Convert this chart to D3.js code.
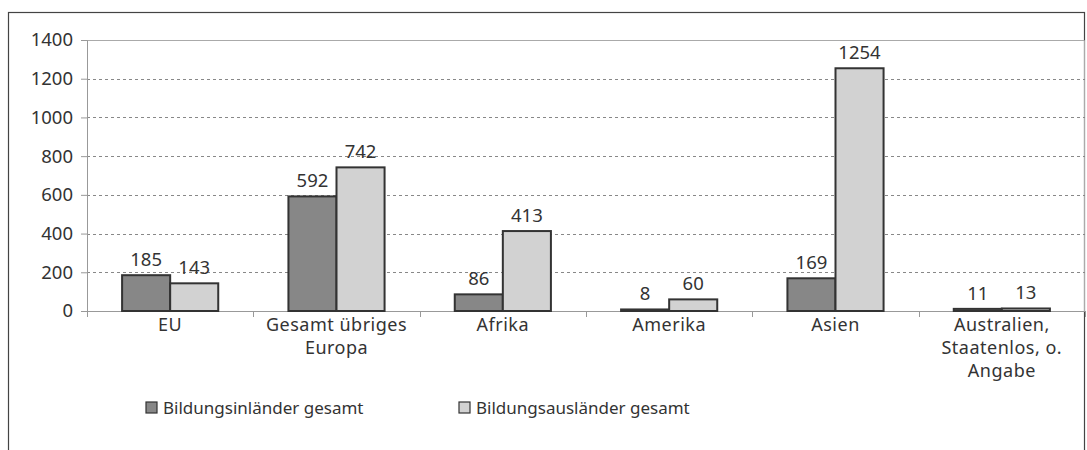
<!DOCTYPE html>
<html>
<head>
<meta charset="utf-8">
<script src="https://cdn.jsdelivr.net/npm/d3@7"></script>
<style>
  body { margin: 0; background: #fff; }
  svg text { font-family: "Noto Sans", "Open Sans", sans-serif; fill: #333; }
</style>
</head>
<body>
<svg id="chart" width="1087" height="450"></svg>
<script>
// data
var categories = ["EU", "Gesamt übriges Europa", "Afrika", "Amerika", "Asien", "Australien, Staatenlos, o. Angabe"];
var categoryLines = [["EU"], ["Gesamt übriges", "Europa"], ["Afrika"], ["Amerika"], ["Asien"], ["Australien,", "Staatenlos, o.", "Angabe"]];
var seriesNames = ["Bildungsinländer gesamt", "Bildungsausländer gesamt"];
var inlaender = [185, 592, 86, 8, 169, 11];
var auslaender = [143, 742, 413, 60, 1254, 13];
var yTicks = [0, 200, 400, 600, 800, 1000, 1200, 1400];

var fills = ["#878787", "#d2d2d2"];

// layout
var margin = {top: 40, right: 2, bottom: 139, left: 87},
    width = 1087 - margin.left - margin.right,
    height = 450 - margin.top - margin.bottom;

var svg = d3.select("#chart");

// outer frame
svg.append("rect")
    .attr("x", 8.5).attr("y", 12.5)
    .attr("width", 1076).attr("height", 450)
    .attr("fill", "none")
    .attr("stroke", "#444")
    .attr("stroke-width", 1.2);

var g = svg.append("g").attr("transform", "translate(" + margin.left + "," + margin.top + ")");

var x0 = d3.scaleBand().domain(categories).range([0, width]).padding(0);
var x1 = d3.scaleBand().domain(seriesNames).range([0, x0.bandwidth()]).paddingInner(0).paddingOuter(0.73);
var y = d3.scaleLinear().domain([0, 1400]).range([height, 0]);

// plot area border (top/right)
g.append("path")
    .attr("d", "M0,0.5H" + (width - 0.5) + "V" + height)
    .attr("fill", "none")
    .attr("stroke", "#aaa");

// gridlines
g.selectAll(".grid")
    .data(yTicks.filter(function (d) { return d > 0 && d < 1400; }))
    .enter()
    .append("line")
    .attr("class", "grid")
    .attr("x1", 0).attr("x2", width)
    .attr("y1", function (d) { return Math.round(y(d)) + 0.5; })
    .attr("y2", function (d) { return Math.round(y(d)) + 0.5; })
    .attr("stroke", "#888")
    .attr("stroke-dasharray", "3,3");

// y axis
var yAxis = g.append("g")
    .call(d3.axisLeft(y).tickValues(yTicks).tickFormat(d3.format("d")).tickSize(6).tickPadding(8));
yAxis.select(".domain").attr("stroke", "#999");
yAxis.selectAll(".tick line").attr("stroke", "#999");
yAxis.selectAll("text").style("font-size", "18.5px").attr("fill", "#333");

// x axis line + ticks at band edges
g.append("line")
    .attr("x1", -6).attr("x2", width)
    .attr("y1", height + 0.5).attr("y2", height + 0.5)
    .attr("stroke", "#999");
var edges = categories.map(function (c) { return x0(c); }).concat([width]);
g.selectAll(".xtick")
    .data(edges)
    .enter()
    .append("line")
    .attr("class", "xtick")
    .attr("x1", function (d) { return Math.round(d) + 0.5; })
    .attr("x2", function (d) { return Math.round(d) + 0.5; })
    .attr("y1", height).attr("y2", height + 6)
    .attr("stroke", "#999");

// bars
var rows = categories.map(function (c, i) {
    return {cat: c, values: [inlaender[i], auslaender[i]]};
});
var groups = g.selectAll(".group")
    .data(rows)
    .enter()
    .append("g")
    .attr("class", "group")
    .attr("transform", function (d) { return "translate(" + x0(d.cat) + ",0)"; });

groups.selectAll("rect")
    .data(function (d) { return d.values.map(function (v, j) { return {s: seriesNames[j], v: v, j: j}; }); })
    .enter()
    .append("rect")
    .attr("x", function (d) { return x1(d.s); })
    .attr("y", function (d) { return y(d.v); })
    .attr("width", x1.bandwidth())
    .attr("height", function (d) { return height - y(d.v); })
    .attr("fill", function (d) { return fills[d.j]; })
    .attr("stroke", "#333")
    .attr("stroke-width", 2);

groups.selectAll(".val")
    .data(function (d) { return d.values.map(function (v, j) { return {s: seriesNames[j], v: v}; }); })
    .enter()
    .append("text")
    .attr("class", "val")
    .attr("x", function (d) { return x1(d.s) + x1.bandwidth() / 2; })
    .attr("y", function (d) { return y(d.v) - 9; })
    .attr("text-anchor", "middle")
    .style("font-size", "18.5px")
    .text(function (d) { return d.v; });

// category labels
var cl = g.selectAll(".clabel")
    .data(categoryLines)
    .enter()
    .append("text")
    .attr("class", "clabel")
    .attr("text-anchor", "middle")
    .attr("transform", function (d, i) { return "translate(" + (x0(categories[i]) + x0.bandwidth() / 2) + "," + (height + 14) + ")"; })
    .style("font-size", "18px")
    .style("letter-spacing", "0.5px");
cl.selectAll("tspan")
    .data(function (d) { return d; })
    .enter()
    .append("tspan")
    .attr("x", 0)
    .attr("y", function (d, i) { return i * 23; })
    .attr("dy", "0.35em")
    .text(function (d) { return d; });

// legend
var legendX = [146, 459];
var lg = svg.selectAll(".legend")
    .data(seriesNames)
    .enter()
    .append("g")
    .attr("class", "legend")
    .attr("transform", function (d, i) { return "translate(" + legendX[i] + ",408)"; });
lg.append("rect")
    .attr("x", 0).attr("y", -6)
    .attr("width", 11).attr("height", 11)
    .attr("fill", function (d, i) { return fills[i]; })
    .attr("stroke", "#333")
    .attr("stroke-width", 1.2);
lg.append("text")
    .attr("x", 17)
    .attr("dy", "0.35em")
    .style("font-size", "17px")
    .text(function (d) { return d; });
</script>
</body>
</html>
